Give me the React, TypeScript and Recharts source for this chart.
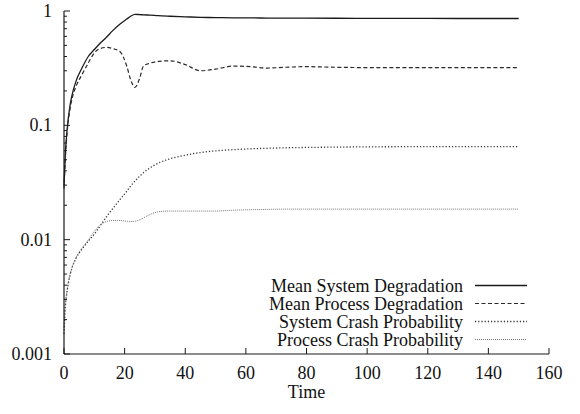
import React from 'react';
import { LineChart, Line, XAxis, YAxis, Legend } from 'recharts';

const times = [0, 0.5, 1, 2, 3, 4, 6, 8, 10, 12, 14, 16, 18.5, 20.7, 22, 23.4, 25, 26.2, 28.4, 31, 35, 40, 45, 50, 56, 62, 67, 73, 79, 90, 100, 110, 120, 130, 140, 150];

const meanSystemDegradation = [0.03, 0.06, 0.09, 0.15, 0.2, 0.245, 0.32, 0.4, 0.46, 0.525, 0.59, 0.67, 0.77, 0.85, 0.9, 0.935, 0.93, 0.925, 0.92, 0.91, 0.9, 0.89, 0.88, 0.875, 0.872, 0.87, 0.868, 0.866, 0.865, 0.864, 0.863, 0.862, 0.861, 0.86, 0.86, 0.86];

const meanProcessDegradation = [0.028, 0.055, 0.085, 0.14, 0.185, 0.22, 0.28, 0.35, 0.43, 0.47, 0.48, 0.47, 0.44, 0.33, 0.25, 0.215, 0.26, 0.33, 0.35, 0.362, 0.367, 0.34, 0.3, 0.31, 0.33, 0.325, 0.317, 0.322, 0.326, 0.322, 0.32, 0.32, 0.32, 0.32, 0.32, 0.32];

const systemCrashProbability = [0.0015, 0.0027, 0.0035, 0.0049, 0.006, 0.0069, 0.0083, 0.0097, 0.0112, 0.0133, 0.0158, 0.0186, 0.0225, 0.0265, 0.0295, 0.0325, 0.036, 0.0385, 0.0425, 0.0465, 0.051, 0.0548, 0.0578, 0.0598, 0.0613, 0.0624, 0.063, 0.0636, 0.064, 0.0645, 0.0648, 0.065, 0.065, 0.065, 0.065, 0.065];

const processCrashProbability = [0.0017, 0.0028, 0.0036, 0.005, 0.0061, 0.007, 0.0085, 0.0099, 0.0118, 0.0135, 0.0144, 0.0147, 0.0147, 0.0145, 0.0144, 0.0145, 0.0149, 0.0155, 0.0166, 0.0175, 0.0178, 0.0178, 0.0178, 0.0178, 0.0181, 0.0183, 0.0184, 0.0185, 0.0185, 0.0185, 0.0185, 0.0185, 0.0185, 0.0185, 0.0185, 0.0185];

const seriesNames = ['Mean System Degradation', 'Mean Process Degradation', 'System Crash Probability', 'Process Crash Probability'];

const xTicks = [0, 20, 40, 60, 80, 100, 120, 140, 160];
const yMajorTicks = [0.001, 0.01, 0.1, 1];
const xAxisLabel = 'Time';

const yTicks: number[] = [];
for (let d = 0; d < yMajorTicks.length - 1; d++) {
  for (let m = 1; m <= 9; m++) yTicks.push(Number((m * yMajorTicks[d]).toPrecision(3)));
}
yTicks.push(yMajorTicks[yMajorTicks.length - 1]);

const data = times.map((t, i) => ({
  t,
  msd: meanSystemDegradation[i],
  mpd: meanProcessDegradation[i],
  scp: systemCrashProbability[i],
  pcp: processCrashProbability[i],
}));

const FONT = '"Liberation Serif", "Times New Roman", Times, "DejaVu Serif", serif';
const FS = 18;
const TXT: React.CSSProperties = { fontFamily: FONT, fontSize: FS };
const AXIS = '#1a1a1a';
const MAJOR = 6;
const MINOR = 3;

const styles = [
  { key: 'msd', stroke: '#1a1a1a', width: 1.3, dash: undefined as string | undefined },
  { key: 'mpd', stroke: '#2a2a2a', width: 1.2, dash: '4 2.5' },
  { key: 'scp', stroke: '#333333', width: 1.3, dash: '1.2 2' },
  { key: 'pcp', stroke: '#777777', width: 1.0, dash: '1 1' },
];

const isMajor = (v: number) => yMajorTicks.some((m) => Math.abs(m - v) < 1e-12);

const LeftTick = (p: any) => {
  const { x, y, payload } = p;
  const v = payload.value;
  const major = isMajor(v);
  return (
    <g>
      <line x1={x} y1={y} x2={x + (major ? MAJOR : MINOR)} y2={y} stroke={AXIS} strokeWidth={1} />
      {major && (
        <text x={x - 12} y={y + 6} textAnchor="end" style={TXT} fill="#111">
          {String(v)}
        </text>
      )}
    </g>
  );
};

const RightTick = (p: any) => {
  const { x, y, payload } = p;
  const major = isMajor(payload.value);
  return <line x1={x} y1={y} x2={x - (major ? MAJOR : MINOR)} y2={y} stroke={AXIS} strokeWidth={1} />;
};

const BottomTick = (p: any) => {
  const { x, y, payload } = p;
  return (
    <g>
      <line x1={x} y1={y} x2={x} y2={y - MAJOR} stroke={AXIS} strokeWidth={1} />
      <text x={x} y={y + 25} textAnchor="middle" style={TXT} fill="#111">
        {String(payload.value)}
      </text>
    </g>
  );
};

const TopTick = (p: any) => {
  const { x, y } = p;
  return <line x1={x} y1={y} x2={x} y2={y + MAJOR} stroke={AXIS} strokeWidth={1} />;
};

const LegendContent = () => (
  <svg width={300} height={80} style={{ display: 'block', overflow: 'visible' }}>
    {styles.map((s, i) => {
      const cy = 11.5 + i * 18;
      return (
        <g key={s.key}>
          <text x={223} y={cy + 6} textAnchor="end" style={TXT} fill="#111">
            {seriesNames[i]}
          </text>
          <line x1={235} y1={cy} x2={287} y2={cy} stroke={s.stroke} strokeWidth={s.width} strokeDasharray={s.dash} />
        </g>
      );
    })}
  </svg>
);

const TimeLabel = (p: any) => {
  const vb = p.viewBox || {};
  return (
    <text x={vb.x + vb.width / 2} y={vb.y + 44} textAnchor="middle" style={TXT} fill="#111">
      {xAxisLabel}
    </text>
  );
};

export default function App() {
  return (
    <div style={{ position: 'absolute', left: 0, top: 0, width: 580, height: 414, background: '#fff', fontFamily: FONT }}>
      <LineChart width={580} height={414} data={data} margin={{ top: 11, right: 31, left: 0, bottom: 0 }}>
        <XAxis
          xAxisId="bottom"
          dataKey="t"
          type="number"
          domain={[0, 160]}
          ticks={xTicks}
          interval={0}
          height={60}
          tickSize={0}
          tickMargin={0}
          tickLine={false}
          axisLine={{ stroke: AXIS, strokeWidth: 1.2 }}
          tick={<BottomTick />}
          label={<TimeLabel />}
        />
        <XAxis
          xAxisId="top"
          orientation="top"
          dataKey="t"
          type="number"
          domain={[0, 160]}
          ticks={xTicks}
          interval={0}
          height={0}
          tickSize={0}
          tickMargin={0}
          tickLine={false}
          axisLine={{ stroke: AXIS, strokeWidth: 1.2 }}
          tick={<TopTick />}
        />
        <YAxis
          yAxisId="left"
          type="number"
          scale="log"
          domain={[0.001, 1]}
          allowDataOverflow
          ticks={yTicks}
          interval={0}
          width={64}
          tickSize={0}
          tickMargin={0}
          tickLine={false}
          axisLine={{ stroke: AXIS, strokeWidth: 1.2 }}
          tick={<LeftTick />}
        />
        <YAxis
          yAxisId="right"
          orientation="right"
          type="number"
          scale="log"
          domain={[0.001, 1]}
          allowDataOverflow
          ticks={yTicks}
          interval={0}
          width={0}
          tickSize={0}
          tickMargin={0}
          tickLine={false}
          axisLine={{ stroke: AXIS, strokeWidth: 1.2 }}
          tick={<RightTick />}
        />
        {styles.map((s, i) => (
          <Line
            key={s.key}
            xAxisId="bottom"
            yAxisId="left"
            dataKey={s.key}
            name={seriesNames[i]}
            type="monotone"
            stroke={s.stroke}
            strokeWidth={s.width}
            strokeDasharray={s.dash}
            dot={false}
            activeDot={false}
            isAnimationActive={false}
          />
        ))}
        <Legend
          layout="horizontal"
          verticalAlign="middle"
          align="center"
          content={<LegendContent />}
          wrapperStyle={{ position: 'absolute', left: 240, top: 274, width: 300, height: 80 }}
        />
      </LineChart>
    </div>
  );
}
